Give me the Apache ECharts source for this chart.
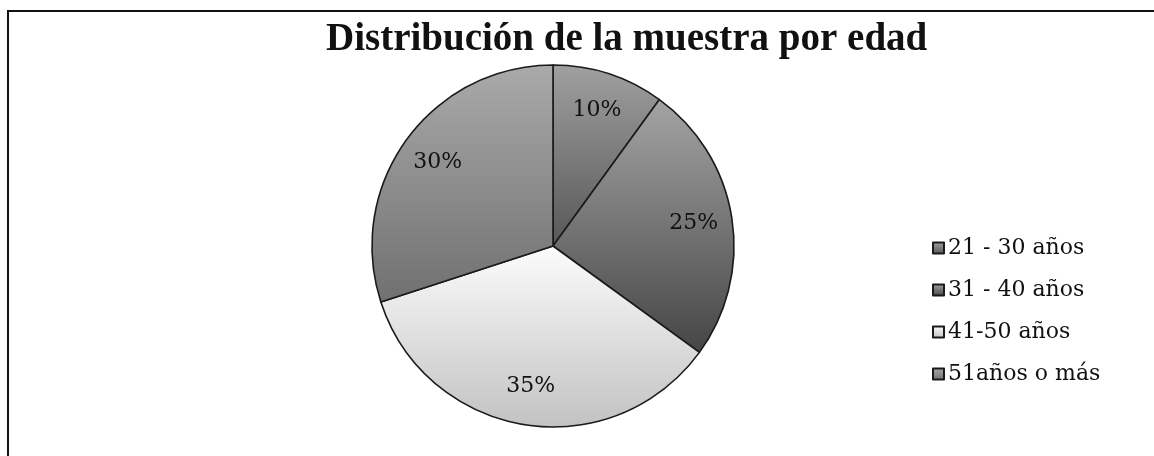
<!DOCTYPE html>
<html>
<head>
<meta charset="utf-8">
<script src="https://cdn.jsdelivr.net/npm/echarts@6/dist/echarts.min.js"></script>
<style>
  html, body { margin: 0; padding: 0; background: #fff; }
  #chart { width: 1154px; height: 456px; }
</style>
</head>
<body>
<div id="chart"></div>
<script>
// Age groups of the sample and their shares (%)
const categories = ['21 - 30 años', '31 - 40 años', '41-50 años', '51años o más'];
const shares = [10, 25, 35, 30];
const titleText = 'Distribución de la muestra por edad';

// Grey shading per slice: [light, dark]
const shades = [
  ['#a0a0a0', '#575757'],
  ['#a4a4a4', '#454545'],
  ['#fcfcfc', '#c2c2c2'],
  ['#aaaaaa', '#707070']
];

function sliceFill(i) {
  return new echarts.graphic.LinearGradient(0, 0, 0, 1, [
    { offset: 0, color: shades[i][0] },
    { offset: 1, color: shades[i][1] }
  ]);
}

const pieData = categories.map((name, i) => ({
  name: name,
  value: shares[i],
  itemStyle: { color: sliceFill(i) }
}));

const labelData = categories.map((name, i) => ({ name: name, value: shares[i] }));

const chart = echarts.init(document.getElementById('chart'), null, { renderer: 'canvas' });

const cx = 553, cy = 246, R = 181;

chart.setOption({
  animation: false,
  backgroundColor: '#ffffff',
  title: {
    text: titleText,
    left: 321,
    top: 15,
    textStyle: {
      fontFamily: 'Liberation Serif',
      fontWeight: 'bold',
      fontSize: 39,
      color: '#111'
    }
  },
  legend: {
    orient: 'vertical',
    left: 927,
    top: 232,
    icon: 'rect',
    itemWidth: 11,
    itemHeight: 11,
    itemGap: 20,
    selectedMode: false,
    data: categories,
    textStyle: {
      fontFamily: 'DejaVu Serif',
      fontSize: 22,
      color: '#111',
      padding: [0, 0, 0, -1]
    }
  },
  graphic: [
    { type: 'line', shape: { x1: 8, y1: 11, x2: 1154, y2: 11 }, style: { stroke: '#111', lineWidth: 2 } },
    { type: 'line', shape: { x1: 8, y1: 10, x2: 8, y2: 456 }, style: { stroke: '#111', lineWidth: 2 } }
  ],
  series: [
    {
      type: 'pie',
      center: [cx, cy],
      radius: [0, R],
      startAngle: 90,
      clockwise: true,
      silent: true,
      label: { show: false },
      labelLine: { show: false },
      itemStyle: { borderColor: '#1a1a1a', borderWidth: 1.6 },
      data: pieData
    },
    {
      // transparent ring used only to place the percentage labels
      type: 'pie',
      center: [cx, cy],
      radius: [R * 0.54, R],
      startAngle: 90,
      clockwise: true,
      silent: true,
      itemStyle: { color: 'rgba(0,0,0,0)', borderWidth: 0 },
      label: {
        show: true,
        position: 'inside',
        formatter: '{c}%',
        fontFamily: 'DejaVu Serif',
        fontSize: 22,
        color: '#111'
      },
      labelLine: { show: false },
      data: labelData
    }
  ]
});
</script>
</body>
</html>
